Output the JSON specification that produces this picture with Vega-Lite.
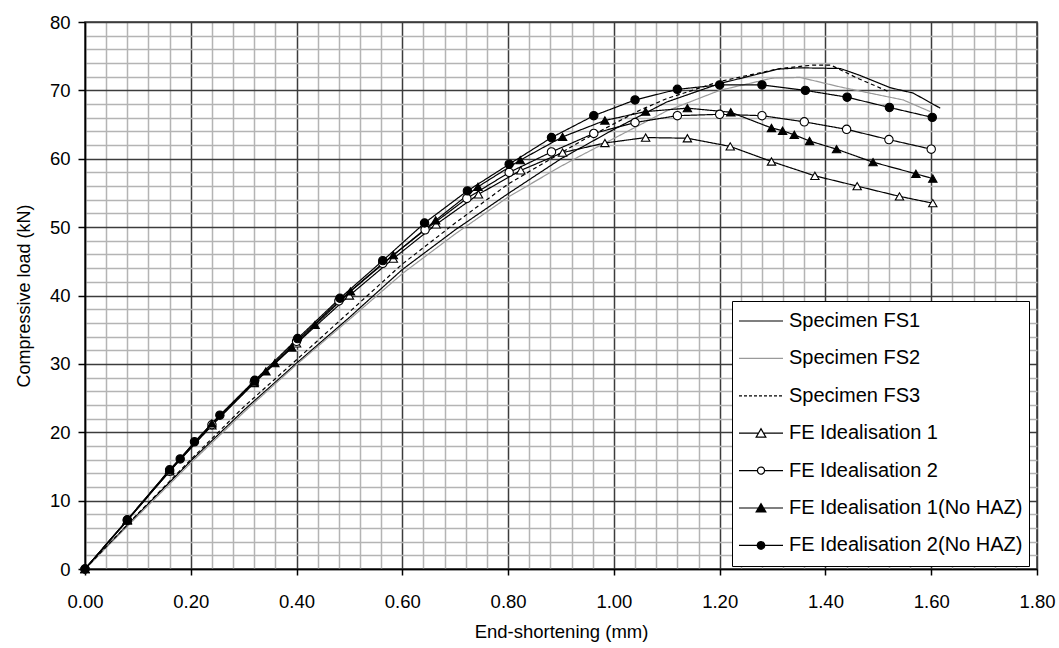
{
  "$schema": "https://vega.github.io/schema/vega-lite/v6.json",
  "width": 952,
  "height": 547,
  "autosize": {"type": "none"},
  "padding": {"left": 85, "top": 22, "right": 22, "bottom": 79},
  "background": "white",
  "config": {
    "view": {"stroke": "#333333", "strokeWidth": 1.5},
    "font": "Liberation Sans"
  },
  "datasets": {
    "curves": [
      {"series": "Specimen FS1", "x": 0, "y": 0},
      {"series": "Specimen FS1", "x": 0.1, "y": 8.0},
      {"series": "Specimen FS1", "x": 0.2, "y": 15.8},
      {"series": "Specimen FS1", "x": 0.3, "y": 23.2},
      {"series": "Specimen FS1", "x": 0.4, "y": 30.1},
      {"series": "Specimen FS1", "x": 0.5, "y": 36.8},
      {"series": "Specimen FS1", "x": 0.6, "y": 43.8},
      {"series": "Specimen FS1", "x": 0.7, "y": 49.6},
      {"series": "Specimen FS1", "x": 0.8, "y": 54.9},
      {"series": "Specimen FS1", "x": 0.9, "y": 60.0},
      {"series": "Specimen FS1", "x": 1.0, "y": 64.3},
      {"series": "Specimen FS1", "x": 1.1, "y": 68.3},
      {"series": "Specimen FS1", "x": 1.2, "y": 71.0},
      {"series": "Specimen FS1", "x": 1.31, "y": 73.1},
      {"series": "Specimen FS1", "x": 1.35, "y": 73.3},
      {"series": "Specimen FS1", "x": 1.428, "y": 73.2},
      {"series": "Specimen FS1", "x": 1.465, "y": 72.2},
      {"series": "Specimen FS1", "x": 1.522, "y": 70.4},
      {"series": "Specimen FS1", "x": 1.566, "y": 69.6},
      {"series": "Specimen FS1", "x": 1.617, "y": 67.4},
      {"series": "Specimen FS2", "x": 0, "y": 0},
      {"series": "Specimen FS2", "x": 0.1, "y": 7.8},
      {"series": "Specimen FS2", "x": 0.2, "y": 15.5},
      {"series": "Specimen FS2", "x": 0.3, "y": 22.9},
      {"series": "Specimen FS2", "x": 0.4, "y": 29.9},
      {"series": "Specimen FS2", "x": 0.5, "y": 36.5},
      {"series": "Specimen FS2", "x": 0.6, "y": 43.2},
      {"series": "Specimen FS2", "x": 0.7, "y": 49.0},
      {"series": "Specimen FS2", "x": 0.8, "y": 54.4},
      {"series": "Specimen FS2", "x": 0.9, "y": 58.9},
      {"series": "Specimen FS2", "x": 0.936, "y": 60.4},
      {"series": "Specimen FS2", "x": 1.043, "y": 64.7},
      {"series": "Specimen FS2", "x": 1.1, "y": 67.0},
      {"series": "Specimen FS2", "x": 1.2, "y": 70.0},
      {"series": "Specimen FS2", "x": 1.3, "y": 71.8},
      {"series": "Specimen FS2", "x": 1.352, "y": 71.9},
      {"series": "Specimen FS2", "x": 1.39, "y": 71.2},
      {"series": "Specimen FS2", "x": 1.428, "y": 70.5},
      {"series": "Specimen FS2", "x": 1.465, "y": 69.9},
      {"series": "Specimen FS2", "x": 1.547, "y": 68.6},
      {"series": "Specimen FS2", "x": 1.598, "y": 66.9},
      {"series": "Specimen FS3", "x": 0, "y": 0},
      {"series": "Specimen FS3", "x": 0.1, "y": 8.1},
      {"series": "Specimen FS3", "x": 0.2, "y": 16.0},
      {"series": "Specimen FS3", "x": 0.3, "y": 23.7},
      {"series": "Specimen FS3", "x": 0.4, "y": 30.6},
      {"series": "Specimen FS3", "x": 0.5, "y": 37.6},
      {"series": "Specimen FS3", "x": 0.6, "y": 44.6},
      {"series": "Specimen FS3", "x": 0.7, "y": 50.6},
      {"series": "Specimen FS3", "x": 0.8, "y": 56.3},
      {"series": "Specimen FS3", "x": 0.936, "y": 62.5},
      {"series": "Specimen FS3", "x": 1.049, "y": 67.1},
      {"series": "Specimen FS3", "x": 1.1, "y": 68.8},
      {"series": "Specimen FS3", "x": 1.2, "y": 71.3},
      {"series": "Specimen FS3", "x": 1.314, "y": 73.2},
      {"series": "Specimen FS3", "x": 1.377, "y": 73.7},
      {"series": "Specimen FS3", "x": 1.41, "y": 73.7},
      {"series": "Specimen FS3", "x": 1.46, "y": 71.8},
      {"series": "Specimen FS3", "x": 1.52, "y": 69.8},
      {"series": "FE Idealisation 1", "x": 0, "y": 0},
      {"series": "FE Idealisation 1", "x": 0.08, "y": 7.1},
      {"series": "FE Idealisation 1", "x": 0.16, "y": 14.3},
      {"series": "FE Idealisation 1", "x": 0.24, "y": 21.0},
      {"series": "FE Idealisation 1", "x": 0.32, "y": 27.2},
      {"series": "FE Idealisation 1", "x": 0.4, "y": 33.0},
      {"series": "FE Idealisation 1", "x": 0.5, "y": 40.0},
      {"series": "FE Idealisation 1", "x": 0.583, "y": 45.4},
      {"series": "FE Idealisation 1", "x": 0.664, "y": 50.4},
      {"series": "FE Idealisation 1", "x": 0.744, "y": 54.8},
      {"series": "FE Idealisation 1", "x": 0.824, "y": 58.3},
      {"series": "FE Idealisation 1", "x": 0.903, "y": 60.9},
      {"series": "FE Idealisation 1", "x": 0.983, "y": 62.3},
      {"series": "FE Idealisation 1", "x": 1.06, "y": 63.1},
      {"series": "FE Idealisation 1", "x": 1.139, "y": 63.0},
      {"series": "FE Idealisation 1", "x": 1.22, "y": 61.8},
      {"series": "FE Idealisation 1", "x": 1.298, "y": 59.6},
      {"series": "FE Idealisation 1", "x": 1.38, "y": 57.5},
      {"series": "FE Idealisation 1", "x": 1.46, "y": 56.0},
      {"series": "FE Idealisation 1", "x": 1.54, "y": 54.5},
      {"series": "FE Idealisation 1", "x": 1.603, "y": 53.5},
      {"series": "FE Idealisation 2", "x": 0, "y": 0},
      {"series": "FE Idealisation 2", "x": 0.08, "y": 7.1},
      {"series": "FE Idealisation 2", "x": 0.16, "y": 14.3},
      {"series": "FE Idealisation 2", "x": 0.24, "y": 21.1},
      {"series": "FE Idealisation 2", "x": 0.32, "y": 27.3},
      {"series": "FE Idealisation 2", "x": 0.4, "y": 33.3},
      {"series": "FE Idealisation 2", "x": 0.48, "y": 39.2},
      {"series": "FE Idealisation 2", "x": 0.563, "y": 44.7},
      {"series": "FE Idealisation 2", "x": 0.643, "y": 49.6},
      {"series": "FE Idealisation 2", "x": 0.722, "y": 54.2},
      {"series": "FE Idealisation 2", "x": 0.802, "y": 58.0},
      {"series": "FE Idealisation 2", "x": 0.882, "y": 61.0},
      {"series": "FE Idealisation 2", "x": 0.962, "y": 63.7},
      {"series": "FE Idealisation 2", "x": 1.04, "y": 65.3},
      {"series": "FE Idealisation 2", "x": 1.12, "y": 66.3},
      {"series": "FE Idealisation 2", "x": 1.2, "y": 66.5},
      {"series": "FE Idealisation 2", "x": 1.28, "y": 66.3},
      {"series": "FE Idealisation 2", "x": 1.36, "y": 65.4},
      {"series": "FE Idealisation 2", "x": 1.44, "y": 64.3},
      {"series": "FE Idealisation 2", "x": 1.52, "y": 62.8},
      {"series": "FE Idealisation 2", "x": 1.6, "y": 61.4},
      {"series": "FE Idealisation 1(No HAZ)", "x": 0, "y": 0},
      {"series": "FE Idealisation 1(No HAZ)", "x": 0.08, "y": 7.2},
      {"series": "FE Idealisation 1(No HAZ)", "x": 0.16, "y": 14.5},
      {"series": "FE Idealisation 1(No HAZ)", "x": 0.24, "y": 21.3},
      {"series": "FE Idealisation 1(No HAZ)", "x": 0.32, "y": 27.4},
      {"series": "FE Idealisation 1(No HAZ)", "x": 0.342, "y": 28.9},
      {"series": "FE Idealisation 1(No HAZ)", "x": 0.359, "y": 30.1},
      {"series": "FE Idealisation 1(No HAZ)", "x": 0.391, "y": 32.4},
      {"series": "FE Idealisation 1(No HAZ)", "x": 0.435, "y": 35.7},
      {"series": "FE Idealisation 1(No HAZ)", "x": 0.502, "y": 40.6},
      {"series": "FE Idealisation 1(No HAZ)", "x": 0.583, "y": 45.9},
      {"series": "FE Idealisation 1(No HAZ)", "x": 0.663, "y": 51.0},
      {"series": "FE Idealisation 1(No HAZ)", "x": 0.743, "y": 55.9},
      {"series": "FE Idealisation 1(No HAZ)", "x": 0.823, "y": 59.8},
      {"series": "FE Idealisation 1(No HAZ)", "x": 0.903, "y": 63.2},
      {"series": "FE Idealisation 1(No HAZ)", "x": 0.983, "y": 65.6},
      {"series": "FE Idealisation 1(No HAZ)", "x": 1.06, "y": 66.9},
      {"series": "FE Idealisation 1(No HAZ)", "x": 1.139, "y": 67.4},
      {"series": "FE Idealisation 1(No HAZ)", "x": 1.221, "y": 66.8},
      {"series": "FE Idealisation 1(No HAZ)", "x": 1.298, "y": 64.5},
      {"series": "FE Idealisation 1(No HAZ)", "x": 1.319, "y": 64.1},
      {"series": "FE Idealisation 1(No HAZ)", "x": 1.341, "y": 63.5},
      {"series": "FE Idealisation 1(No HAZ)", "x": 1.37, "y": 62.6},
      {"series": "FE Idealisation 1(No HAZ)", "x": 1.421, "y": 61.4},
      {"series": "FE Idealisation 1(No HAZ)", "x": 1.49, "y": 59.5},
      {"series": "FE Idealisation 1(No HAZ)", "x": 1.571, "y": 57.8},
      {"series": "FE Idealisation 1(No HAZ)", "x": 1.603, "y": 57.1},
      {"series": "FE Idealisation 2(No HAZ)", "x": 0, "y": 0},
      {"series": "FE Idealisation 2(No HAZ)", "x": 0.08, "y": 7.2},
      {"series": "FE Idealisation 2(No HAZ)", "x": 0.16, "y": 14.5},
      {"series": "FE Idealisation 2(No HAZ)", "x": 0.18, "y": 16.1},
      {"series": "FE Idealisation 2(No HAZ)", "x": 0.207, "y": 18.6},
      {"series": "FE Idealisation 2(No HAZ)", "x": 0.255, "y": 22.5},
      {"series": "FE Idealisation 2(No HAZ)", "x": 0.321, "y": 27.6},
      {"series": "FE Idealisation 2(No HAZ)", "x": 0.402, "y": 33.7},
      {"series": "FE Idealisation 2(No HAZ)", "x": 0.482, "y": 39.6},
      {"series": "FE Idealisation 2(No HAZ)", "x": 0.563, "y": 45.1},
      {"series": "FE Idealisation 2(No HAZ)", "x": 0.642, "y": 50.6},
      {"series": "FE Idealisation 2(No HAZ)", "x": 0.723, "y": 55.3},
      {"series": "FE Idealisation 2(No HAZ)", "x": 0.802, "y": 59.2},
      {"series": "FE Idealisation 2(No HAZ)", "x": 0.882, "y": 63.1},
      {"series": "FE Idealisation 2(No HAZ)", "x": 0.962, "y": 66.3},
      {"series": "FE Idealisation 2(No HAZ)", "x": 1.04, "y": 68.6},
      {"series": "FE Idealisation 2(No HAZ)", "x": 1.12, "y": 70.15},
      {"series": "FE Idealisation 2(No HAZ)", "x": 1.2, "y": 70.8},
      {"series": "FE Idealisation 2(No HAZ)", "x": 1.28, "y": 70.8},
      {"series": "FE Idealisation 2(No HAZ)", "x": 1.362, "y": 70.0},
      {"series": "FE Idealisation 2(No HAZ)", "x": 1.441, "y": 69.0},
      {"series": "FE Idealisation 2(No HAZ)", "x": 1.521, "y": 67.5},
      {"series": "FE Idealisation 2(No HAZ)", "x": 1.602, "y": 66.05}
    ]
  },
  "data": {"name": "curves"},
  "encoding": {
    "x": {
      "field": "x",
      "type": "quantitative",
      "scale": {"domain": [0, 1.8], "nice": false, "zero": false},
      "axis": {
        "title": "End-shortening (mm)",
        "values": [0,0.04,0.08,0.12,0.16,0.2,0.24,0.28,0.32,0.36,0.4,0.44,0.48,0.52,0.56,0.6,0.64,0.68,0.72,0.76,0.8,0.84,0.88,0.92,0.96,1,1.04,1.08,1.12,1.16,1.2,1.24,1.28,1.32,1.36,1.4,1.44,1.48,1.52,1.56,1.6,1.64,1.68,1.72,1.76,1.8],
        "labelExpr": "round(datum.value*100) % 20 == 0 ? format(datum.value, '.2f') : ''",
        "labelOverlap": false,
        "labelFlush": false,
        "grid": true,
        "gridColor": {"condition": {"test": "round(datum.value*100) % 20 == 0", "value": "#3c3c3c"}, "value": "#b4b4b4"},
        "gridWidth": 1.5,
        "tickColor": {"condition": {"test": "round(datum.value*100) % 20 == 0", "value": "#000000"}, "value": "transparent"},
        "tickSize": 6,
        "tickWidth": 1.5,
        "domainColor": "#000000",
        "domainWidth": 1.5,
        "labelPadding": 17,
        "labelFont": "Liberation Sans",
        "labelFontSize": 18.5,
        "labelColor": "#000000",
        "titleFont": "Liberation Sans",
        "titleFontSize": 18.5,
        "titleFontWeight": "normal",
        "titleColor": "#000000",
        "titlePadding": 12
      }
    },
    "y": {
      "field": "y",
      "type": "quantitative",
      "scale": {"domain": [0, 80], "nice": false},
      "axis": {
        "title": "Compressive load (kN)",
        "values": [0,2,4,6,8,10,12,14,16,18,20,22,24,26,28,30,32,34,36,38,40,42,44,46,48,50,52,54,56,58,60,62,64,66,68,70,72,74,76,78,80],
        "labelExpr": "datum.value % 10 == 0 ? format(datum.value, 'd') : ''",
        "labelOverlap": false,
        "labelFlush": false,
        "grid": true,
        "gridColor": {"condition": {"test": "datum.value % 10 == 0", "value": "#3c3c3c"}, "value": "#b4b4b4"},
        "gridWidth": 1.5,
        "tickColor": {"condition": {"test": "datum.value % 10 == 0", "value": "#000000"}, "value": "transparent"},
        "tickSize": 7,
        "tickWidth": 1.5,
        "domainColor": "#000000",
        "domainWidth": 1.5,
        "labelPadding": 8,
        "labelFont": "Liberation Sans",
        "labelFontSize": 18.5,
        "labelColor": "#000000",
        "titleFont": "Liberation Sans",
        "titleFontSize": 18,
        "titleFontWeight": "normal",
        "titleColor": "#000000",
        "titlePadding": 16
      }
    }
  },
  "layer": [
    {
      "mark": {"type": "line", "strokeWidth": 1.2, "clip": true},
      "encoding": {
        "color": {
          "field": "series",
          "type": "nominal",
          "scale": {
            "domain": ["Specimen FS1","Specimen FS2","Specimen FS3","FE Idealisation 1","FE Idealisation 2","FE Idealisation 1(No HAZ)","FE Idealisation 2(No HAZ)"],
            "range": ["#000000","#9a9a9a","#000000","#000000","#000000","#000000","#000000"]
          },
          "legend": null
        },
        "strokeDash": {
          "field": "series",
          "type": "nominal",
          "scale": {
            "domain": ["Specimen FS1","Specimen FS2","Specimen FS3","FE Idealisation 1","FE Idealisation 2","FE Idealisation 1(No HAZ)","FE Idealisation 2(No HAZ)"],
            "range": [[1,0],[1,0],[4,3],[1,0],[1,0],[1,0],[1,0]]
          },
          "legend": null
        },
        "order": {"field": "x", "type": "quantitative"}
      }
    },
    {
      "transform": [{"filter": "indexof(datum.series, 'FE') == 0"}],
      "mark": {"type": "point", "opacity": 1, "strokeWidth": 1.1, "stroke": "#000000"},
      "encoding": {
        "shape": {
          "field": "series",
          "type": "nominal",
          "scale": {
            "domain": ["FE Idealisation 1","FE Idealisation 2","FE Idealisation 1(No HAZ)","FE Idealisation 2(No HAZ)"],
            "range": ["triangle-up","circle","triangle-up","circle"]
          },
          "legend": null
        },
        "fill": {
          "field": "series",
          "type": "nominal",
          "scale": {
            "domain": ["FE Idealisation 1","FE Idealisation 2","FE Idealisation 1(No HAZ)","FE Idealisation 2(No HAZ)"],
            "range": ["#ffffff","#ffffff","#000000","#000000"]
          },
          "legend": null
        },
        "size": {"value": 70}
      }
    },
    {
      "transform": [{"filter": "datum.x < 0"}],
      "mark": {"type": "point", "opacity": 1, "strokeWidth": 1.2},
      "encoding": {
        "shape": {
          "field": "series",
          "type": "nominal",
          "scale": {
            "domain": ["Specimen FS1","Specimen FS2","Specimen FS3","FE Idealisation 1","FE Idealisation 2","FE Idealisation 1(No HAZ)","FE Idealisation 2(No HAZ)"],
            "range": [
              "M-1,0H1",
              "M-1,0H1",
              "M-1,0H1",
              "M-1,0H-0.11M0.11,0H1M0,-0.2L0.22,0.18L-0.22,0.18Z",
              "M-1,0H-0.16M0.16,0H1M0.16,0A0.16,0.16 0 1 1 -0.16,0A0.16,0.16 0 1 1 0.16,0Z",
              "M-1,0H1M0,-0.2L0.22,0.18L-0.22,0.18Z",
              "M-1,0H1M0.17,0A0.17,0.17 0 1 1 -0.17,0A0.17,0.17 0 1 1 0.17,0Z"
            ]
          },
          "legend": {
            "title": null,
            "orient": "none",
            "legendX": 647,
            "legendY": 279,
            "strokeColor": "#000000",
            "fillColor": "#ffffff",
            "padding": 6,
            "clipHeight": 28,
            "rowPadding": 9.4,
            "symbolSize": 1936,
            "symbolStrokeWidth": 1.2,
            "symbolOpacity": 1,
            "labelOffset": 5,
            "labelLimit": 400,
            "labelFont": "Liberation Sans",
            "labelFontSize": 20,
            "labelColor": "#000000"
          }
        },
        "fill": {
          "field": "series",
          "type": "nominal",
          "scale": {
            "domain": ["Specimen FS1","Specimen FS2","Specimen FS3","FE Idealisation 1","FE Idealisation 2","FE Idealisation 1(No HAZ)","FE Idealisation 2(No HAZ)"],
            "range": ["#ffffff","#ffffff","#ffffff","#ffffff","#ffffff","#000000","#000000"]
          }
        },
        "stroke": {
          "field": "series",
          "type": "nominal",
          "scale": {
            "domain": ["Specimen FS1","Specimen FS2","Specimen FS3","FE Idealisation 1","FE Idealisation 2","FE Idealisation 1(No HAZ)","FE Idealisation 2(No HAZ)"],
            "range": ["#000000","#9a9a9a","#000000","#000000","#000000","#000000","#000000"]
          }
        },
        "strokeDash": {
          "field": "series",
          "type": "nominal",
          "scale": {
            "domain": ["Specimen FS1","Specimen FS2","Specimen FS3","FE Idealisation 1","FE Idealisation 2","FE Idealisation 1(No HAZ)","FE Idealisation 2(No HAZ)"],
            "range": [[1,0],[1,0],[3,2],[1,0],[1,0],[1,0],[1,0]]
          }
        }
      }
    }
  ],
  "resolve": {
    "scale": {"color": "independent", "shape": "independent", "fill": "independent", "stroke": "independent", "strokeDash": "independent"}
  }
}
